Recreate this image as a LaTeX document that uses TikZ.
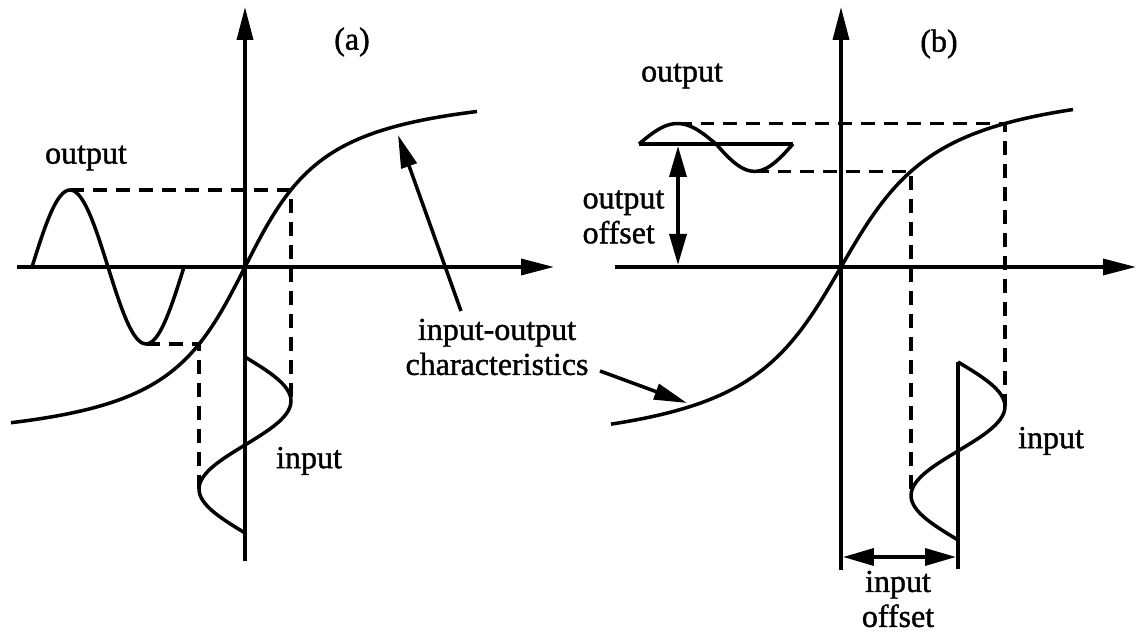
\documentclass[tikz,border=0pt]{standalone}
\usepackage{fontspec}
\setmainfont{Liberation Serif}[BoldFont=Liberation Serif,BoldFeatures={FakeBold=1.2}]
\usepackage{tikz}
\usetikzlibrary{arrows.meta}

\begin{document}
\begin{tikzpicture}[x=0.02cm,y=0.02cm,line width=2pt,
    >={Triangle[length=0.66cm,width=0.32cm]},
    guide/.style={dash pattern=on 0.28cm off 0.18cm},
    lbl/.style={font=\fontsize{18.2}{19.9}\selectfont\bfseries,align=center}]
  \useasboundingbox (0,0) rectangle (1137,634);
  % label shared by both panels
  \node[lbl] (chr) at (497,287) {input-output\\characteristics};

  % (a) no offsets.  curve f(x) = 118 atan(x/60), input swing 46 gives output swing 77
  \begin{scope}[shift={(245,367)}]
    \draw[->] (0,-294) -- (0,260);
    \draw[->] (-228,0) -- (309,0);
    \draw[domain=-234:232,samples=90,smooth] plot (\x,{118*rad(atan(\x/60))});
    \draw[domain=-213:-61,samples=60,smooth] plot (\x,{77*sin((\x+213)/152*360)});
    \draw[domain=0:176,samples=60,smooth] plot ({46*sin(\x/176*360)},{-90-\x});
    \draw[guide] (-175,77) -- (46,77) -- (46,-134);
    \draw[guide] (-99,-77) -- (-46,-77) -- (-46,-222);
    \node[lbl] (capa) at (107,225) {(a)};
    \node[lbl] (outa) at (-159,109) {output};
    \node[lbl] (ina) at (64,-194) {input};
    \coordinate (chra) at (216,-44);
    \coordinate (cura) at (153,132);
  \end{scope}
  \draw[->] (chra) -- (cura);

  % (b) offsets.  curve f(x) = 124 atan(x/72), input centred at 117, output at 123
  \begin{scope}[shift={(841,367)}]
    \pgfmathsetmacro{\ytop}{124*rad(atan(164/72))}
    \pgfmathsetmacro{\ybot}{124*rad(atan(70/72))}
    \draw[->] (0,-303) -- (0,260);
    \draw[->] (-226,0) -- (295,0);
    \draw[domain=-230:232,samples=90,smooth] plot (\x,{124*rad(atan(\x/72))});
    % output rides on its offset line
    \draw (-202,123) -- (-48,123);
    \draw[domain=-202:-125,samples=30,smooth] plot (\x,{123+(\ytop-123)*sin((\x+202)/154*360)});
    \draw[domain=-125:-48,samples=30,smooth] plot (\x,{123+(123-\ybot)*sin((\x+202)/154*360)});
    % input rides on its offset line
    \draw (117,-95) -- (117,-302);
    \draw[domain=0:178,samples=60,smooth] plot ({117+47*sin(\x/178*360)},{-95-\x});
    \draw[guide] (-163.5,\ytop) -- (164,\ytop) -- (164,-139.5);
    \draw[guide] (-86.5,\ybot) -- (70,\ybot) -- (70,-228.5);
    % offset arrows
    \coordinate (obase) at (-163,121);
    \coordinate (oaxis) at (-163,2);
    \coordinate (iaxis) at (2,-290);
    \coordinate (ibase) at (115,-290);
    \draw[<->,>={Triangle[length=0.62cm,width=0.34cm]}] (obase) -- (oaxis);
    \draw[<->,>={Triangle[length=0.62cm,width=0.34cm]}] (iaxis) -- (ibase);
    \node[lbl,anchor=west,align=left] (offo) at (-266,50) {output\\offset};
    \node[lbl] (offi) at (57,-332) {input\\offset};
    \node[lbl] (capb) at (98,223) {(b)};
    \node[lbl] (outb) at (-159,191) {output};
    \node[lbl] (inb) at (210,-174) {input};
    \coordinate (chrb) at (-241,-104);
    \coordinate (curb) at (-154,-136);
  \end{scope}
  \draw[->] (chrb) -- (curb);
\end{tikzpicture}
\end{document}
